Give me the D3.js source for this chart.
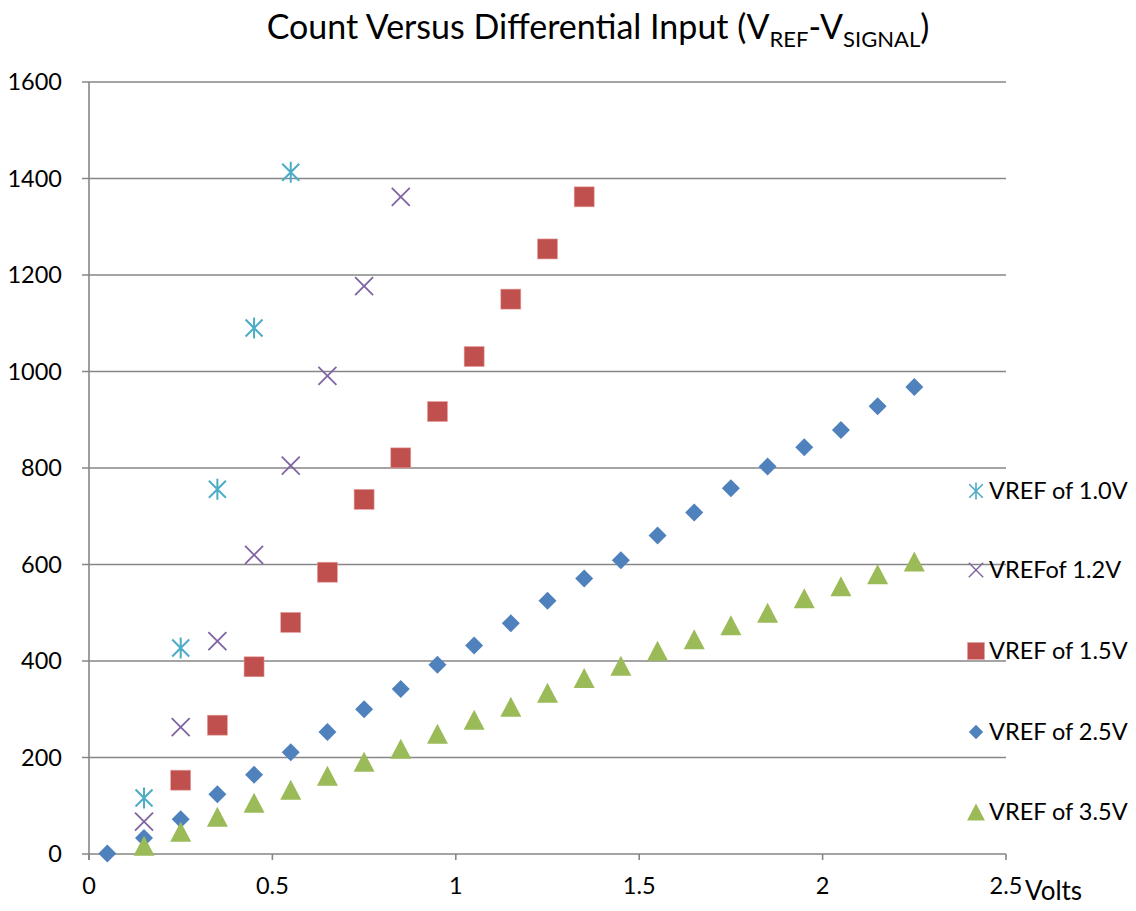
<!DOCTYPE html>
<html lang="en">
<head>
<meta charset="UTF-8">
<title>Count Versus Differential Input</title>
<script src="https://cdn.jsdelivr.net/npm/d3@7"></script>
<style>
  body { margin: 0; background: #fff; }
  svg text { font-family: Lato, "Open Sans", sans-serif; fill: #000; }
</style>
</head>
<body>
<script>
// series data: differential input (volts) and count
const x10 = [0.15, 0.25, 0.35, 0.45, 0.55]
const y10 = [116, 427, 756, 1090, 1413]

const x12 = [0.15, 0.25, 0.35, 0.45, 0.55, 0.65, 0.75, 0.85]
const y12 = [67, 263, 441, 620, 805, 991, 1177, 1362]

const x15 = [0.25, 0.35, 0.45, 0.55, 0.65, 0.75, 0.85, 0.95, 1.05, 1.15, 1.25, 1.35]
const y15 = [153, 267, 388, 480, 584, 735, 821, 917, 1031, 1150, 1254, 1362]

const x25 = [0.05, 0.15, 0.25, 0.35, 0.45, 0.55, 0.65, 0.75, 0.85, 0.95, 1.05, 1.15,
             1.25, 1.35, 1.45, 1.55, 1.65, 1.75, 1.85, 1.95, 2.05, 2.15, 2.25]
const y25 = [1, 33, 72, 124, 164, 211, 253, 300, 342, 392, 432, 478,
             525, 571, 609, 660, 708, 758, 803, 843, 879, 928, 968]

const x35 = [0.15, 0.25, 0.35, 0.45, 0.55, 0.65, 0.75, 0.85, 0.95, 1.05, 1.15, 1.25,
             1.35, 1.45, 1.55, 1.65, 1.75, 1.85, 1.95, 2.05, 2.15, 2.25]
const y35 = [17, 46, 77, 106, 133, 162, 191, 218, 249, 278, 305, 334,
             365, 390, 421, 445, 474, 500, 530, 555, 580, 606]

const seriesNames = ['VREF of 1.0V', 'VREFof 1.2V', 'VREF of 1.5V', 'VREF of 2.5V', 'VREF of 3.5V']
const seriesColors = ['#4BACC6', '#8064A2', '#C0504D', '#4F81BD', '#9BBB59']
const seriesShapes = ['asterisk', 'cross', 'square', 'diamond', 'triangle']

const xTicks = [0, 0.5, 1, 1.5, 2, 2.5]
const yTicks = [0, 200, 400, 600, 800, 1000, 1200, 1400, 1600]

const series = [
  { xs: x10, ys: y10 },
  { xs: x12, ys: y12 },
  { xs: x15, ys: y15 },
  { xs: x25, ys: y25 },
  { xs: x35, ys: y35 }
].map((s, i) => ({
  name: seriesNames[i],
  color: seriesColors[i],
  shape: seriesShapes[i],
  points: s.xs.map((x, j) => ({ x: x, y: s.ys[j] }))
}))

const width = 1136
const height = 911
const margin = { left: 89, right: 130, top: 82, bottom: 57 }

const svg = d3.select('body').append('svg')
  .attr('width', width)
  .attr('height', height)

const x = d3.scaleLinear().domain([0, 2.5]).range([margin.left, width - margin.right])
const y = d3.scaleLinear().domain([0, 1600]).range([height - margin.bottom, margin.top])

const gridColor = '#868686'

// horizontal gridlines
svg.append('g')
  .selectAll('line')
  .data(yTicks)
  .join('line')
  .attr('x1', margin.left - 7)
  .attr('x2', x(2.5))
  .attr('y1', d => y(d))
  .attr('y2', d => y(d))
  .attr('stroke', gridColor)
  .attr('stroke-width', 1.6)

// y axis line
svg.append('line')
  .attr('x1', x(0)).attr('x2', x(0))
  .attr('y1', y(1600)).attr('y2', y(0) + 6)
  .attr('stroke', gridColor)
  .attr('stroke-width', 1.6)

// x ticks
svg.append('g')
  .selectAll('line')
  .data(xTicks)
  .join('line')
  .attr('x1', d => x(d)).attr('x2', d => x(d))
  .attr('y1', y(0)).attr('y2', y(0) + 6)
  .attr('stroke', gridColor)
  .attr('stroke-width', 1.6)

// y tick labels
svg.append('g')
  .selectAll('text')
  .data(yTicks)
  .join('text')
  .attr('x', 62)
  .attr('y', d => y(d))
  .attr('dy', '0.36em')
  .attr('text-anchor', 'end')
  .attr('font-size', 23.5)
  .text(d => d)

// x tick labels
svg.append('g')
  .selectAll('text')
  .data(xTicks)
  .join('text')
  .attr('x', d => x(d))
  .attr('y', y(0) + 40)
  .attr('text-anchor', 'middle')
  .attr('font-size', 23.5)
  .text(d => d)

svg.append('text')
  .attr('x', x(2.5) + 19)
  .attr('y', y(0) + 46)
  .attr('font-size', 26)
  .text('Volts')

// title with subscripts
const title = svg.append('text')
  .attr('x', 598)
  .attr('y', 39)
  .attr('text-anchor', 'middle')
  .attr('font-size', 34)
title.append('tspan').text('Count Versus Differential Input (V')
title.append('tspan').attr('font-size', 22).attr('dy', 8).text('REF')
title.append('tspan').attr('dy', -8).text('-V')
title.append('tspan').attr('font-size', 22).attr('dy', 8).text('SIGNAL')
title.append('tspan').attr('dy', -8).text(')')

// marker drawing
function drawMarker(g, shape, color) {
  if (shape === 'diamond') {
    g.append('path').attr('d', 'M0,-9L9,0L0,9L-9,0Z').attr('fill', color)
  } else if (shape === 'square') {
    g.append('rect').attr('x', -10).attr('y', -10).attr('width', 20).attr('height', 20)
      .attr('fill', color).attr('stroke', '#e8a0a0').attr('stroke-width', 0.6)
  } else if (shape === 'triangle') {
    g.append('path').attr('d', 'M0,-10L10.5,10L-10.5,10Z').attr('fill', color)
  } else if (shape === 'cross') {
    g.append('path').attr('d', 'M-9,-9L9,9M-9,9L9,-9')
      .attr('stroke', color).attr('stroke-width', 1.8).attr('fill', 'none')
  } else if (shape === 'asterisk') {
    g.append('path').attr('d', 'M-8.5,-8.5L8.5,8.5M-8.5,8.5L8.5,-8.5M0,-10.5L0,10.5')
      .attr('stroke', color).attr('stroke-width', 2).attr('fill', 'none')
  }
}

series.forEach(s => {
  const grp = svg.append('g')
  s.points.forEach(p => {
    const g = grp.append('g').attr('transform', `translate(${x(p.x)},${y(p.y)})`)
    drawMarker(g, s.shape, s.color)
  })
})

// legend
const legendY = [491, 570, 651, 732, 812]
series.forEach((s, i) => {
  const g = svg.append('g').attr('transform', `translate(976,${legendY[i]})`)
  const m = g.append('g').attr('transform', s.shape === 'square' || s.shape === 'triangle' ? 'scale(0.85)' : 'scale(0.8)')
  drawMarker(m, s.shape, s.color)
  g.append('text')
    .attr('x', 13)
    .attr('dy', '0.36em')
    .attr('font-size', 23.5)
    .text(s.name)
})
</script>
</body>
</html>
